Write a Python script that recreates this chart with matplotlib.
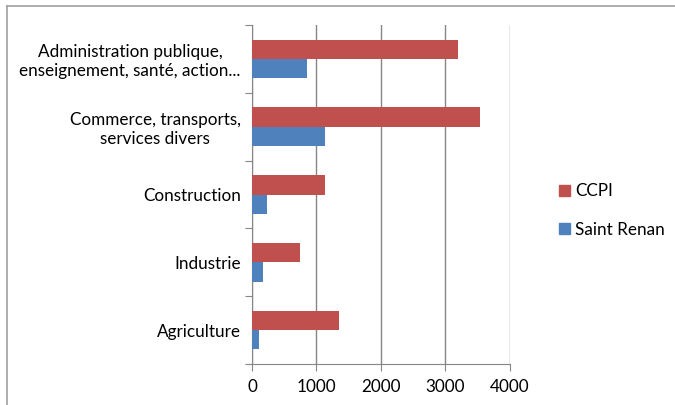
import matplotlib.pyplot as plt
import numpy as np
from matplotlib.lines import Line2D
from matplotlib.patches import Patch

plt.rcParams['font.family'] = ['Lato', 'DejaVu Sans']

# secteurs d'activité (de bas en haut)
secteurs = ['Agriculture', 'Industrie', 'Construction',
            'Commerce, transports,\nservices divers',
            'Administration publique,\nenseignement, santé, action...']
ccpi = [1345, 750, 1125, 3535, 3190]
saint_renan = [110, 165, 230, 1125, 850]
xticks = [0, 1000, 2000, 3000, 4000]

rouge = '#C0504D'
bleu = '#4F81BD'
gris = '#868686'

fig = plt.figure(figsize=(6.75, 4.05), dpi=100)
ax = fig.add_axes([0.3733, 0.1012, 0.3822, 0.837])

y = np.arange(len(secteurs))
h = 1 / 3.5
ax.barh(y + h / 2, ccpi, height=h, color=rouge, zorder=3)
ax.barh(y - h / 2, saint_renan, height=h, color=bleu, zorder=3)

ax.set_xlim(0, 4000)
ax.set_ylim(-0.5, len(secteurs) - 0.5)
ax.set_xticks(xticks)
ax.set_xticklabels([str(v) for v in xticks], fontsize=12.3)
ax.xaxis.grid(True, color=gris, linewidth=1, zorder=0)

# graduations de l'axe vertical entre les catégories
ax.set_yticks(np.arange(len(secteurs) + 1) - 0.5)
ax.set_yticklabels([])
ax.set_yticks(y, minor=True)
ax.set_yticklabels(secteurs, minor=True, fontsize=12.3, ha='right', multialignment='center')
ax.tick_params(axis='y', which='minor', length=0, pad=8)
ax.tick_params(axis='y', which='major', length=5, color=gris)
ax.tick_params(axis='x', length=5, color=gris, pad=6)

for s in ['top', 'right']:
    ax.spines[s].set_visible(False)
for s in ['left', 'bottom']:
    ax.spines[s].set_color(gris)

handles = [Patch(color=rouge, label='CCPI'), Patch(color=bleu, label='Saint Renan')]
fig.legend(handles=handles, loc='center left', bbox_to_anchor=(0.806, 0.48),
           frameon=False, fontsize=12.3, handlelength=0.6, handleheight=0.6,
           handletextpad=0.3, labelspacing=1.3)

# cadre du graphique
fig.add_artist(Line2D([7 / 675, 1], [1 - 6 / 405, 1 - 6 / 405], color='#a0a0a0', lw=1.2))
fig.add_artist(Line2D([7 / 675, 7 / 675], [0, 1 - 6 / 405], color='#a0a0a0', lw=1.2))

fig.savefig('out.png', dpi=100)
